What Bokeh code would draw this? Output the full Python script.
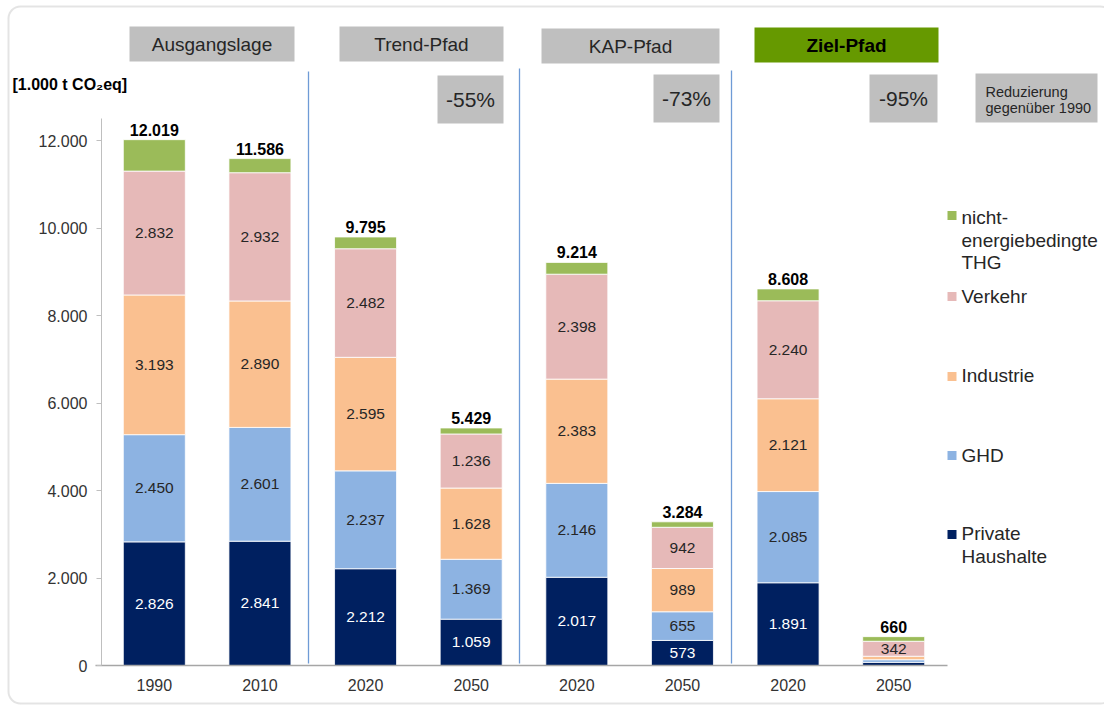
import numpy as np
from bokeh.plotting import figure
from bokeh.models import ColumnDataSource, Range1d, FixedTicker, BoxAnnotation, Label
from bokeh.core.properties import value
from bokeh.embed import file_html
from bokeh.resources import INLINE

# ---------------- data ----------------
years = ["1990", "2010", "2020", "2050", "2020", "2050", "2020", "2050"]
private_haushalte = [2826, 2841, 2212, 1059, 2017, 573, 1891, 72]
ghd = [2450, 2601, 2237, 1369, 2146, 655, 2085, 60]
industrie = [3193, 2890, 2595, 1628, 2383, 989, 2121, 80]
verkehr = [2832, 2932, 2482, 1236, 2398, 942, 2240, 342]
nicht_energie = [718, 322, 269, 137, 270, 125, 271, 106]

series_keys = ["ph", "ghd", "ind", "verk", "nicht"]
series_colors = ["#002060", "#8db3e2", "#fac090", "#e6b9b8", "#9bbb59"]
groups = ["Ausgangslage", "Trend-Pfad", "KAP-Pfad", "Ziel-Pfad"]
reductions = ["-55%", "-73%", "-95%"]
y_ticks = [0, 2000, 4000, 6000, 8000, 10000, 12000]
y_tick_labels = ["0", "2.000", "4.000", "6.000", "8.000", "10.000", "12.000"]

FONT = "Liberation Sans"
TXT = "#262626"

def fmt(v):
    return f"{v:,}".replace(",", ".")

# pixel helpers (canvas px -> data) for decorations
FL, XS, Y0, YS = 101.0, 105.625, 665.0, 0.04375
def X(px):
    return (px - FL) / XS
def Y(py):
    return (Y0 - py) / YS

# ---------------- figure ----------------
W, H = 1104, 707
p = figure(width=W, height=H, output_backend="svg", toolbar_location=None,
           x_range=Range1d(X(0), X(W)), y_range=Range1d(Y(H), Y(0)),
           min_border=0, min_border_left=0, min_border_right=0,
           min_border_top=0, min_border_bottom=0)
p.outline_line_color = None
p.xgrid.grid_line_color = None
p.ygrid.grid_line_color = None
p.background_fill_color = "white"
p.border_fill_color = "white"

xs = [i + 0.5 for i in range(len(years))]
src = ColumnDataSource(dict(x=xs, ph=private_haushalte, ghd=ghd, ind=industrie,
                            verk=verkehr, nicht=nicht_energie))
p.vbar_stack(series_keys, x="x", width=0.587, color=series_colors, source=src,
             line_color="white", line_width=0.8)

# segment value labels
stack = np.array([private_haushalte, ghd, industrie, verkehr], dtype=float)
cum = np.cumsum(stack, axis=0)
lx, ly, lt, lc = [], [], [], []
for s in range(4):
    for i in range(len(years)):
        v = stack[s, i]
        if v >= 300:
            lx.append(xs[i]); ly.append(cum[s, i] - v / 2); lt.append(fmt(int(v)))
            lc.append("white" if s == 0 else TXT)
p.text(x=lx, y=ly, text=lt, text_color=lc, text_align="center", text_baseline="middle",
       text_font=value(FONT), text_font_size="15.5px")

# totals
totals = [a + b + c + d + e for a, b, c, d, e in zip(private_haushalte, ghd, industrie, verkehr, nicht_energie)]
p.text(x=xs, y=totals, text=[fmt(t) for t in totals], text_color="black", text_align="center",
       text_baseline="bottom", y_offset=-4, text_font=value(FONT), text_font_size="16px",
       text_font_style="bold")

# axes (drawn at fixed data locations)
p.yaxis.fixed_location = 0
p.yaxis.bounds = (0, 12500)
p.yaxis.ticker = FixedTicker(ticks=y_ticks)
p.yaxis.major_label_overrides = {t: l for t, l in zip(y_ticks, y_tick_labels)}
p.yaxis.minor_tick_line_color = None
p.yaxis.major_tick_in = 0
p.yaxis.major_tick_out = 5
p.yaxis.axis_line_color = "#bfbfbf"
p.yaxis.major_tick_line_color = "#bfbfbf"
p.yaxis.major_label_standoff = 9
p.yaxis.major_label_text_font = FONT
p.yaxis.major_label_text_font_size = "16px"
p.yaxis.major_label_text_color = "#333333"

p.xaxis.fixed_location = 0
p.xaxis.bounds = (X(95), X(947))
p.xaxis.ticker = FixedTicker(ticks=xs)
p.xaxis.major_label_overrides = {x: y for x, y in zip(xs, years)}
p.xaxis.minor_tick_line_color = None
p.xaxis.major_tick_in = 0
p.xaxis.major_tick_out = 0
p.xaxis.axis_line_color = "#a6a6a6"
p.xaxis.axis_line_width = 1.5
p.xaxis.major_label_standoff = 13
p.xaxis.major_label_text_font = FONT
p.xaxis.major_label_text_font_size = "16px"
p.xaxis.major_label_text_color = "#333333"

# outer rounded frame
p.add_layout(BoxAnnotation(left=X(8), right=X(1112), top=Y(6), bottom=Y(703),
                           fill_color=None, line_color="#a6a6a6", line_width=2,
                           border_radius=12))

# separators
sep_x = [X(308), X(519), X(731)]
sep_top = [Y(71), Y(68), Y(70)]
p.segment(x0=sep_x, y0=sep_top, x1=sep_x, y1=[Y(663)] * 3, line_color="#6f9bd6", line_width=1.3)

# header boxes
hdr_boxes = [(129, 294, 26, 61), (339, 503, 26, 61), (541, 719, 28, 63), (754, 938, 27, 62)]
for (l, r, t, b), name in zip(hdr_boxes, groups):
    green = name == "Ziel-Pfad"
    p.quad(left=X(l), right=X(r), top=Y(t), bottom=Y(b),
           fill_color="#669900" if green else "#bfbfbf", line_color=None)
    p.add_layout(Label(x=X((l + r) / 2), y=Y((t + b) / 2 + 0.5), text=name, text_align="center",
                       text_baseline="middle", text_font=FONT, text_font_size="19px",
                       text_color="black" if green else TXT,
                       text_font_style="bold" if green else "normal"))

# reduction boxes
red_boxes = [(437, 503, 75, 123), (653, 719, 74, 122), (869, 937, 74, 122)]
for (l, r, t, b), txt in zip(red_boxes, reductions):
    p.quad(left=X(l), right=X(r), top=Y(t), bottom=Y(b), fill_color="#bfbfbf", line_color=None)
    p.add_layout(Label(x=X((l + r) / 2), y=Y((t + b) / 2), text=txt, text_align="center",
                       text_baseline="middle", text_font=FONT, text_font_size="21px",
                       text_color=TXT))

p.quad(left=X(975), right=X(1097), top=Y(73), bottom=Y(122), fill_color="#bfbfbf", line_color=None)
for txt, cy in [("Reduzierung", 91.5), ("gegenüber 1990", 107)]:
    p.add_layout(Label(x=X(985), y=Y(cy), text=txt, text_align="left", text_baseline="middle",
                       text_font=FONT, text_font_size="14.5px", text_color=TXT))

# unit label
p.add_layout(Label(x=X(12), y=Y(84), text="[1.000 t CO\u2082eq]", text_align="left",
                   text_baseline="middle", text_font=FONT, text_font_size="16px",
                   text_font_style="bold", text_color="black"))

# legend
legend_items = [
    ("nicht", ["nicht-", "energiebedingte", "THG"], 215, 217),
    ("verk", ["Verkehr"], 296, 296),
    ("ind", ["Industrie"], 376, 375),
    ("ghd", ["GHD"], 455, 455),
    ("ph", ["Private", "Haushalte"], 534, 533),
]
for key, lines, sq, ty in legend_items:
    col = series_colors[series_keys.index(key)]
    p.quad(left=X(947), right=X(956), top=Y(sq - 4.5), bottom=Y(sq + 4.5),
           fill_color=col, line_color=None)
    for k, ln in enumerate(lines):
        p.add_layout(Label(x=X(961), y=Y(ty + 22.5 * k), text=ln, text_align="left",
                           text_baseline="middle", text_font=FONT, text_font_size="19px",
                           text_color=TXT))

open("out.html", "w").write(file_html(p, INLINE))
